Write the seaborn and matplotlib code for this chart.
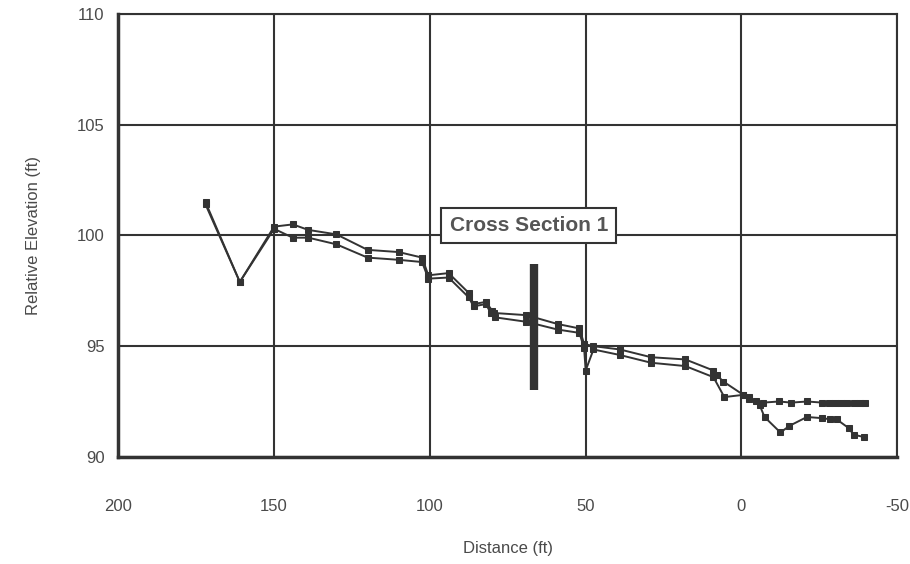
import matplotlib
matplotlib.use("Agg")
import matplotlib.pyplot as plt
import seaborn as sns
import pandas as pd

# Survey profiles along the reach (distance in ft, relative elevation in ft)
dist_a = [172, 161, 150, 144, 139, 130, 120, 110, 102.5, 100.5, 94, 87.5, 86, 82, 80, 79.5,
          69, 59, 52, 50.5, 47.5, 39, 29, 18, 9, 8, 5.8, -0.6, -2.3, -4.8, -7, -12, -16,
          -21, -26, -28, -30, -32, -34, -36, -38, -39.5]
elev_a = [101.5, 97.9, 100.4, 100.5, 100.25, 100.05, 99.35, 99.25, 99.0, 98.2, 98.3, 97.4,
          96.9, 97.0, 96.6, 96.5, 96.4, 96.0, 95.8, 95.1, 95.0, 94.85, 94.5, 94.4, 93.9, 93.7,
          93.4, 92.8, 92.7, 92.5, 92.45, 92.5, 92.45, 92.5, 92.45, 92.45, 92.45, 92.45, 92.45,
          92.45, 92.45, 92.45]

dist_b = [172, 161, 150, 144, 139, 130, 120, 110, 102.5, 100.5, 94, 87.5, 86, 82, 80.5, 79,
          69, 59, 52, 50.5, 50, 47.5, 39, 29, 18, 9, 5.5, -0.6, -2.3, -5.8, -7.4, -12.5, -15.4,
          -21, -25.7, -28.3, -30.5, -34.4, -36, -39.2]
elev_b = [101.4, 97.9, 100.3, 99.9, 99.9, 99.6, 99.0, 98.9, 98.8, 98.05, 98.1, 97.2, 96.8,
          96.9, 96.5, 96.3, 96.1, 95.75, 95.6, 94.9, 93.9, 94.85, 94.6, 94.25, 94.1, 93.6, 92.7,
          92.8, 92.6, 92.35, 91.8, 91.1, 91.4, 91.8, 91.75, 91.7, 91.7, 91.3, 91.0, 90.9]

# Cross-section marker
xs_dist = 66.5
xs_low, xs_high = 93.0, 98.7
xs_label = "Cross Section 1"

x_ticks = [200, 150, 100, 50, 0, -50]
y_ticks = [90, 95, 100, 105, 110]

sns.set_theme(style="white")
plt.rcParams["font.family"] = ["Liberation Sans", "DejaVu Sans"]

ink = "#333333"
text_c = "#4a4a4a"

fig = plt.figure(figsize=(9.1, 5.64), dpi=100)
ax = fig.add_axes([0.130, 0.190, 0.856, 0.785])

df_a = pd.DataFrame({"Distance": dist_a, "Elevation": elev_a})
df_b = pd.DataFrame({"Distance": dist_b, "Elevation": elev_b})

for df in (df_a, df_b):
    sns.lineplot(data=df, x="Distance", y="Elevation", sort=False, ax=ax,
                 color=ink, linewidth=1.4, marker="s", markersize=4.5,
                 markeredgecolor=ink, markerfacecolor=ink, zorder=3)

ax.vlines(xs_dist, xs_low, xs_high, color=ink, linewidth=6, zorder=4)
ax.text(68.2, 100.45, xs_label, ha="center", va="center", fontsize=15,
        fontweight="bold", color="#555555", zorder=5,
        bbox=dict(boxstyle="square,pad=0.4", facecolor="white", edgecolor=ink, linewidth=1.5))

ax.set_xlim(200, -50)
ax.set_ylim(90, 110)
ax.set_xticks(x_ticks)
ax.set_yticks(y_ticks)
ax.set_xticklabels([str(t) for t in x_ticks])
ax.set_yticklabels([str(t) for t in y_ticks])
ax.grid(True, color=ink, linewidth=1.5)
ax.tick_params(axis="x", length=0, pad=30, labelsize=12, labelcolor=text_c)
ax.tick_params(axis="y", length=0, pad=10, labelsize=12, labelcolor=text_c)

for side, sp in ax.spines.items():
    sp.set_visible(True)
    sp.set_color(ink)
    sp.set_linewidth(1.5)
ax.spines["left"].set_linewidth(2.5)
ax.spines["bottom"].set_linewidth(2.5)

ax.set_xlabel("Distance (ft)", fontsize=12, color=text_c, labelpad=20)
ax.set_ylabel("Relative Elevation (ft)", fontsize=12, color=text_c, labelpad=26)

fig.savefig("out.png", dpi=100, facecolor="white")
